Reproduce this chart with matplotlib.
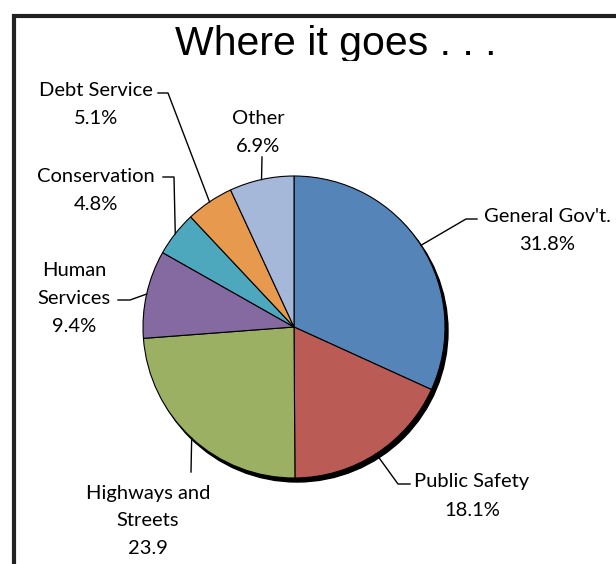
import matplotlib.pyplot as plt
import numpy as np
from matplotlib.transforms import Bbox, TransformedBbox

labels = ['General Gov\'t.', 'Public Safety', 'Highways and\nStreets', 'Human\nServices',
          'Conservation', 'Debt Service', 'Other']
shares = [31.8, 18.1, 23.9, 9.4, 4.8, 5.1, 6.9]
value_text = ['31.8%', '18.1%', '23.9', '9.4%', '4.8%', '5.1%', '6.9%']
colors = ['#5585B8', '#BA5C55', '#9BB062', '#8569A1', '#4DA8BD', '#E79A4E', '#A5B8DA']

W, H = 616, 564
cx, cy, r = 294, 327, 151

# label placement in pixel coords: (text centre x, first line y, leader path after the rim point)
label_pos = [
    (547, 215, [(466, 219), (477, 219)]),
    (472, 480, [(398, 484), (410, 484)]),
    (148, 491, [(191, 472)]),
    (74, 269, [(130, 300), (118, 300)]),
    (96, 175, [(174, 177), (163, 177)]),
    (96, 89, [(168, 93), (158, 93)]),
    (258, 117, [(262, 157)]),
]
line_h = 28


def py(y):
    return H - y


fig = plt.figure(figsize=(W / 100, H / 100), dpi=100)
ax = fig.add_axes([0, 0, 1, 1])

# frame
ax.plot([14, 14, W + 5], [-5, py(16), py(16)], color='#222222', lw=3.0,
        solid_joinstyle='miter', zorder=1)

# title, bottom cut off like the original
t = ax.text(336, py(55), 'Where it goes . . .', family='Liberation Sans', fontsize=29.5,
            ha='center', va='baseline', color='black')
t.set_clip_box(TransformedBbox(Bbox([[0, py(61)], [W, H]]), ax.transData))
t.set_clip_on(True)

# shadow rim
ax.add_patch(plt.Circle((cx + 3, py(cy) - 4), r, color='black', zorder=2))

wedges, _ = ax.pie(shares, colors=colors, startangle=90, counterclock=False,
                   center=(cx, py(cy)), radius=r, frame=True,
                   wedgeprops=dict(edgecolor='black', linewidth=0.8))
for w in wedges:
    w.set_zorder(3)
ax.set_xlim(0, W)
ax.set_ylim(0, H)
ax.set_aspect('equal')
ax.axis('off')

# labels with leader lines from the middle of each slice's rim
font = dict(family='Lato', fontsize=14.5, color='black')
for w, lab, val, (tx, ty, path) in zip(wedges, labels, value_text, label_pos):
    mid = np.deg2rad((w.theta1 + w.theta2) / 2)
    ex, ey = cx + r * np.cos(mid), py(cy) + r * np.sin(mid)
    xs = [ex] + [p[0] for p in path]
    ys = [ey] + [py(p[1]) for p in path]
    ax.plot(xs, ys, color='black', lw=1.0, zorder=4)
    lines = lab.split('\n') + [val]
    for i, s in enumerate(lines):
        ax.text(tx, py(ty + 2 + i * line_h), s, ha='center', va='center', **font)

fig.savefig('out.png', dpi=100)
